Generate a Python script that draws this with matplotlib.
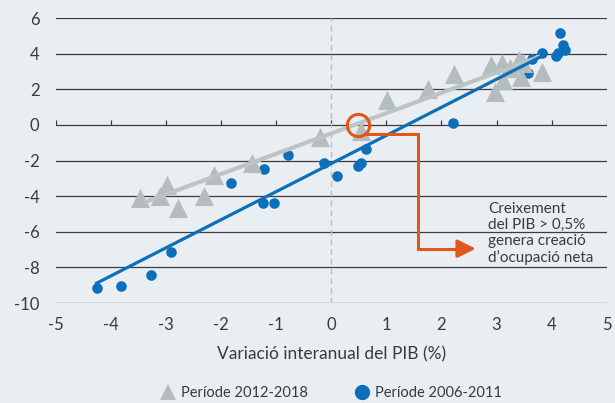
import matplotlib
matplotlib.use("Agg")
import matplotlib.pyplot as plt
from matplotlib.lines import Line2D
import numpy as np

plt.rcParams['font.family'] = ['Lato', 'DejaVu Sans']

# Període 2012-2018 (triangles)
x_2012 = [-3.47, -3.11, -2.98, -2.78, -2.32, -2.13, -1.45, -0.20, 0.53, 1.01, 1.75,
          2.23, 2.89, 2.97, 3.09, 3.11, 3.24, 3.41, 3.44, 3.48, 3.82]
y_2012 = [-4.08, -4.00, -3.37, -4.68, -3.99, -2.81, -2.12, -0.66, -0.34, 1.40, 2.00,
          2.87, 3.37, 1.87, 3.46, 2.53, 3.18, 3.65, 2.71, 3.46, 2.99]
# Període 2006-2011 (circles)
x_2006 = [-4.26, -3.82, -3.27, -2.92, -1.83, -1.24, -1.05, -1.23, -0.79, -0.13, 0.11,
          0.48, 0.53, 0.62, 2.20, 3.57, 3.64, 3.82, 4.08, 4.12, 4.16, 4.20, 4.24]
y_2006 = [-9.14, -9.03, -8.43, -7.12, -3.28, -4.36, -4.40, -2.45, -1.67, -2.12, -2.87,
          -2.30, -2.12, -1.37, 0.10, 2.90, 3.71, 4.03, 3.88, 4.03, 5.15, 4.49, 4.21]

# trend lines (end points)
trend_2012_x = [-3.40, 3.80]
trend_2012_y = [-4.35, 3.85]
trend_2006_x = [-4.29, 3.93]
trend_2006_y = [-8.93, 4.03]

# threshold annotation
threshold_x, threshold_y = 0.48, 0.0
path_x = [0.62, 1.58, 1.58, 2.35]
path_y = [-0.52, -0.52, -6.95, -6.95]
arrow_end = (2.62, -6.95)
note = "Creixement\ndel PIB > 0,5%\ngenera creació\nd\u2019ocupació neta"

x_ticks = np.arange(-5, 6, 1)
y_ticks = np.arange(-10, 7, 2)

BG = '#E9EEF3'
BLUE = '#0B6FBA'
GREY_MK = '#B4BCBD'
GREY_LN = '#BEC4C6'
ORANGE = '#E2561A'
TXT = '#3A3A3A'

fig = plt.figure(figsize=(6.15, 4.03), dpi=100, facecolor=BG)
ax = fig.add_axes([0.0911, 0.2481, 0.8954, 0.7072], facecolor=BG)

for yv in y_ticks:
    ax.axhline(yv, color='#3C3C3C', lw=0.9, zorder=1)
for xv in x_ticks:
    ax.plot([xv, xv], [0, 0.3], color='#3C3C3C', lw=0.9, zorder=1, solid_capstyle='butt')
ax.axvline(0, color='#BDBDBD', lw=1.0, ls=(0, (4, 3)), zorder=1)

ax.scatter(x_2006, y_2006, s=58, color=BLUE, marker='o', lw=0, zorder=2)
ax.scatter(x_2012, y_2012, s=190, color=GREY_MK, marker='^', lw=0, zorder=3)
ax.plot(trend_2012_x, trend_2012_y, color=GREY_LN, lw=3.0, zorder=4, solid_capstyle='butt')
ax.plot(trend_2006_x, trend_2006_y, color=BLUE, lw=2.3, zorder=5, solid_capstyle='butt')

ax.plot([threshold_x], [threshold_y], marker='o', ms=16, mfc='none', mec=ORANGE, mew=2.2, zorder=6)
ax.plot(path_x, path_y, color=ORANGE, lw=2.2, zorder=6, solid_joinstyle='miter')
ax.annotate('', xy=arrow_end, xytext=(path_x[-1] - 0.05, path_y[-1]),
            arrowprops=dict(arrowstyle='-|>,head_length=1.1,head_width=0.55',
                            color=ORANGE, lw=2.2, shrinkA=0, shrinkB=0), zorder=6)
ax.text(2.84, -4.35, note, ha='left', va='top', fontsize=11, color=TXT,
        linespacing=1.17, zorder=7)

ax.set_xlim(-5, 5)
ax.set_ylim(-10, 6)
ax.set_xticks(x_ticks)
ax.set_yticks(y_ticks)
ax.set_xticklabels([str(v) for v in x_ticks])
ax.set_yticklabels([str(v) for v in y_ticks])
ax.tick_params(length=0, labelsize=12, labelcolor=TXT)
ax.tick_params(axis='y', pad=12)
ax.tick_params(axis='x', pad=10)
for sp in ax.spines.values():
    sp.set_visible(False)
ax.set_xlabel('Variació interanual del PIB (%)', fontsize=12.5, color=TXT, labelpad=10)

handles = [Line2D([], [], ls='none', marker='^', ms=12, color=GREY_MK, mew=0),
           Line2D([], [], ls='none', marker='o', ms=11, color=BLUE, mew=0)]
fig.legend(handles, ['Període 2012-2018', 'Període 2006-2011'], loc='center',
           bbox_to_anchor=(0.537, 0.024), ncol=2, frameon=False, fontsize=10.5,
           labelcolor=TXT, handletextpad=0.3, columnspacing=3.1, handlelength=1.2)

fig.savefig('out.png', dpi=100, facecolor=BG)
